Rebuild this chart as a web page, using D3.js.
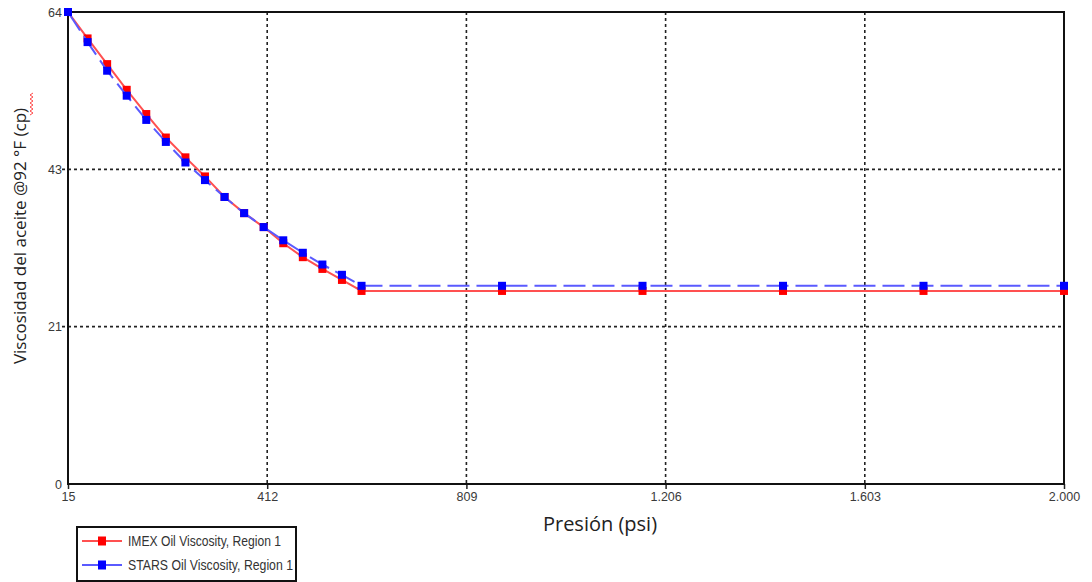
<!DOCTYPE html>
<html>
<head>
<meta charset="utf-8">
<script src="https://cdn.jsdelivr.net/npm/d3@7"></script>
<style>
  body { margin: 0; background: #fff; }
  svg { display: block; }
</style>
</head>
<body>
<svg id="chart" width="1092" height="582"></svg>
<script>
// Pressure steps (psi)
const pressure = [15, 54, 93, 132, 171, 210, 249, 288, 327, 366, 405, 444, 483, 522, 561, 600, 880, 1160, 1440, 1720, 2000];
// Oil viscosity at 92 °F (cp)
const imexViscosity = [64.3, 60.7, 57.2, 53.7, 50.4, 47.2, 44.5, 41.9, 39.1, 36.9, 35.0, 32.8, 30.9, 29.3, 27.8, 26.3, 26.3, 26.3, 26.3, 26.3, 26.3];
const starsViscosity = [64.3, 60.2, 56.3, 52.9, 49.6, 46.6, 43.8, 41.4, 39.1, 36.9, 35.0, 33.2, 31.5, 29.9, 28.5, 27.0, 27.0, 27.0, 27.0, 27.0, 27.0];
const xTickValues = [15, 412, 809, 1206, 1603, 2000];
const yMax = 64.3;
const yTickValues = [0, yMax / 3, 2 * yMax / 3, yMax];
const seriesNames = ["IMEX Oil Viscosity, Region 1", "STARS Oil Viscosity, Region 1"];

const svg = d3.select("#chart");
const plot = { left: 68, right: 1064, top: 12, bottom: 484 };

const x = d3.scaleLinear().domain([15, 2000]).range([plot.left, plot.right]);
const y = d3.scaleLinear().domain([0, yMax]).range([plot.bottom, plot.top]);

const fmtX = v => d3.format(",.0f")(v).replace(/,/g, ".");
const fmtY = d3.format(".0f");

// grid
const grid = svg.append("g");
grid.selectAll("line.vx").data(xTickValues.slice(1, -1)).join("line")
  .attr("x1", d => x(d)).attr("x2", d => x(d))
  .attr("y1", plot.top).attr("y2", plot.bottom)
  .attr("stroke", "#222").attr("stroke-width", 1.6).attr("stroke-dasharray", "3,3");
grid.selectAll("line.hy").data(yTickValues.slice(1, -1)).join("line")
  .attr("x1", plot.left - 6).attr("x2", plot.right)
  .attr("y1", d => y(d)).attr("y2", d => y(d))
  .attr("stroke", "#222").attr("stroke-width", 1.6).attr("stroke-dasharray", "3,3");

// axes
const xAxis = d3.axisBottom(x).tickValues(xTickValues).tickFormat(fmtX).tickSize(5).tickPadding(3);
const yAxis = d3.axisLeft(y).tickValues(yTickValues).tickFormat(fmtY).tickSize(0).tickPadding(6);

const gx = svg.append("g").attr("transform", `translate(0,${plot.bottom})`).call(xAxis);
const gy = svg.append("g").attr("transform", `translate(${plot.left},0)`).call(yAxis);
[gx, gy].forEach(g => {
  g.select(".domain").remove();
  g.selectAll("line").attr("stroke", "#222").attr("stroke-width", 1.5);
  g.selectAll("text").attr("font-family", "Liberation Sans, Arial, sans-serif")
    .attr("font-size", 12.5).attr("fill", "#3a3a3a");
});

// frame
svg.append("rect")
  .attr("x", plot.left).attr("y", plot.top)
  .attr("width", plot.right - plot.left).attr("height", plot.bottom - plot.top)
  .attr("fill", "none").attr("stroke", "#111").attr("stroke-width", 2);

// series
const series = [
  { name: seriesNames[0], values: imexViscosity, line: "#ff5050", mark: "#ff0000", dash: null },
  { name: seriesNames[1], values: starsViscosity, line: "#5a5aff", mark: "#0000ff", dash: "22,7" }
];
const lineGen = d3.line().x(d => x(d[0])).y(d => y(d[1]));

series.forEach(s => {
  const pts = pressure.map((p, i) => [p, s.values[i]]);
  svg.append("path").datum(pts)
    .attr("d", lineGen).attr("fill", "none")
    .attr("stroke", s.line).attr("stroke-width", 2)
    .attr("stroke-dasharray", s.dash);
  svg.append("g").selectAll("rect").data(pts).join("rect")
    .attr("x", d => x(d[0]) - 4).attr("y", d => y(d[1]) - 4)
    .attr("width", 8).attr("height", 8).attr("fill", s.mark);
});

// axis titles
svg.append("text")
  .attr("x", 600).attr("y", 531)
  .attr("text-anchor", "middle")
  .attr("font-family", "Open Sans, sans-serif").attr("font-size", 20).attr("fill", "#222")
  .text("Presión (psi)");

svg.append("text")
  .attr("transform", "translate(26,236) rotate(-90)")
  .attr("text-anchor", "middle")
  .attr("font-family", "Open Sans, sans-serif").attr("font-size", 17).attr("fill", "#222")
  .text("Viscosidad del aceite @92 °F (cp)");

// spell-check squiggle beside "cp"
const squiggle = d3.path();
squiggle.moveTo(30, 115);
for (let k = 0, yy = 115; yy > 94; k++) {
  yy -= 2;
  squiggle.lineTo(k % 2 === 0 ? 33 : 30, yy);
}
svg.append("path").attr("d", squiggle.toString())
  .attr("fill", "none").attr("stroke", "#ff4a4a").attr("stroke-width", 1);

// legend
const lg = svg.append("g").attr("transform", "translate(77,527)");
lg.append("rect").attr("x", 0).attr("y", 0).attr("width", 219).attr("height", 54)
  .attr("fill", "#fff").attr("stroke", "#111").attr("stroke-width", 2);
series.forEach((s, i) => {
  const cy = 14 + i * 24;
  lg.append("line").attr("x1", 5).attr("x2", 45).attr("y1", cy).attr("y2", cy)
    .attr("stroke", s.line).attr("stroke-width", 2);
  lg.append("rect").attr("x", 21).attr("y", cy - 4.5).attr("width", 8).attr("height", 9)
    .attr("fill", s.mark);
  lg.append("text").attr("x", 51).attr("y", cy + 5)
    .attr("font-family", "Liberation Sans Narrow, Arial Narrow, Liberation Sans, sans-serif")
    .attr("font-size", 14).attr("fill", "#333")
    .attr("textLength", i === 0 ? 153 : 165).attr("lengthAdjust", "spacingAndGlyphs")
    .text(s.name);
});
</script>
</body>
</html>
